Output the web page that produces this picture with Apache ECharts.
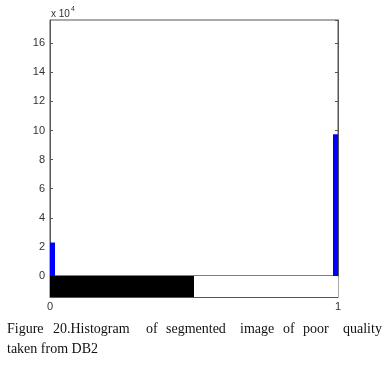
<!DOCTYPE html>
<html>
<head>
<meta charset="utf-8">
<script src="https://cdn.jsdelivr.net/npm/echarts@6/dist/echarts.min.js"></script>
<style>
html,body{margin:0;padding:0;background:#fff;}
#chart{width:385px;height:365px;}
</style>
</head>
<body>
<div id="chart"></div>
<script>
// Histogram data (intensity bins and pixel counts)
var binPositions = [0, 1];
var binCounts = [23000, 97400];
// Colorbar segments (start, end, colour)
var colorbarStarts = [0, 0.5];
var colorbarEnds = [0.5, 1];
var colorbarColors = ['#000000', '#ffffff'];
// Axis ranges
var yMax = 176000;
var yStep = 20000;
// Caption
var captionLine1 = ['Figure', '20.Histogram', 'of', 'segmented', 'image', 'of', 'poor', 'quality'];
var captionLine1Lefts = [7, 53, 146, 166, 240, 283, 303, 343];
var captionLine2 = 'taken from DB2';

var chart = echarts.init(document.getElementById('chart'));
var axisColor = '#555555';
var labelColor = '#333333';

var graphics = [{
  type: 'text', left: 51, top: 6,
  style: {
    text: '{a|x 10}{b|4}',
    rich: {
      a: {fontFamily: 'Liberation Sans', fontSize: 10, fill: labelColor, verticalAlign: 'bottom'},
      b: {fontFamily: 'Liberation Sans', fontSize: 7, fill: labelColor, verticalAlign: 'top', padding: [0, 0, 6, 1]}
    }
  }
}];
captionLine1.forEach(function (w, i) {
  graphics.push({type: 'text', x: captionLine1Lefts[i], y: 336,
    style: {text: w, fontFamily: 'Liberation Serif', fontSize: 14, fill: '#111', textAlign: 'left', textVerticalAlign: 'bottom'}});
});
graphics.push({type: 'text', x: 7, y: 356,
  style: {text: captionLine2, fontFamily: 'Liberation Serif', fontSize: 14, fill: '#111', textAlign: 'left', textVerticalAlign: 'bottom'}});

var yLabelFmt = function (v) { return (v % yStep === 0) ? String(v / 10000) : ''; };
var barHalfWidth = 5;

chart.setOption({
  animation: false,
  backgroundColor: '#ffffff',
  grid: [
    {left: 50, top: 20, width: 288, height: 256, show: true, borderColor: axisColor, borderWidth: 1, backgroundColor: 'transparent'},
    {left: 50, top: 276, width: 288, height: 21, show: true, borderColor: axisColor, borderWidth: 1, backgroundColor: 'transparent'}
  ],
  xAxis: [
    {type: 'value', gridIndex: 0, min: 0, max: 1, interval: 1,
     axisLine: {show: false}, axisTick: {show: false}, axisLabel: {show: false}, splitLine: {show: false}},
    {type: 'value', gridIndex: 1, min: 0, max: 1, interval: 1,
     axisLine: {show: true, lineStyle: {color: axisColor}}, axisTick: {show: false},
     axisLabel: {show: true, color: labelColor, fontFamily: 'Liberation Sans', fontSize: 11, margin: 4},
     splitLine: {show: false}}
  ],
  yAxis: [
    {type: 'value', gridIndex: 0, min: 0, max: yMax, interval: yStep, position: 'left',
     axisLine: {show: true, lineStyle: {color: axisColor}},
     axisTick: {show: true, inside: true, length: 3, lineStyle: {color: axisColor}},
     axisLabel: {show: true, color: labelColor, fontFamily: 'Liberation Sans', fontSize: 11, margin: 5, formatter: yLabelFmt, showMaxLabel: false},
     splitLine: {show: false}},
    {type: 'value', gridIndex: 0, min: 0, max: yMax, interval: yStep, position: 'right',
     axisLine: {show: true, lineStyle: {color: axisColor}},
     axisTick: {show: true, inside: true, length: 3, lineStyle: {color: axisColor}},
     axisLabel: {show: false}, splitLine: {show: false}},
    {type: 'value', gridIndex: 1, min: 0, max: 1, show: false}
  ],
  series: [
    {type: 'custom', xAxisIndex: 0, yAxisIndex: 0,
     renderItem: function (params, api) {
       var top = api.coord([api.value(0), api.value(1)]);
       var base = api.coord([api.value(0), 0]);
       var rect = echarts.graphic.clipRectByRect(
         {x: top[0] - barHalfWidth, y: top[1], width: barHalfWidth * 2, height: base[1] - top[1]},
         {x: params.coordSys.x, y: params.coordSys.y, width: params.coordSys.width, height: params.coordSys.height});
       return rect && {type: 'rect', shape: rect, style: {fill: '#0000ff'}};
     },
     data: binPositions.map(function (x, i) { return [x, binCounts[i]]; }),
     z: 1},
    {type: 'custom', xAxisIndex: 1, yAxisIndex: 2,
     renderItem: function (params, api) {
       var p0 = api.coord([api.value(0), 1]);
       var p1 = api.coord([api.value(1), 0]);
       return {type: 'rect', shape: {x: p0[0], y: p0[1], width: p1[0] - p0[0], height: p1[1] - p0[1]},
               style: {fill: api.visual('color')}};
     },
     data: colorbarStarts.map(function (s, i) {
       return {value: [s, colorbarEnds[i]], itemStyle: {color: colorbarColors[i]}};
     }),
     z: 1}
  ],
  graphic: graphics
});
</script>
</body>
</html>
